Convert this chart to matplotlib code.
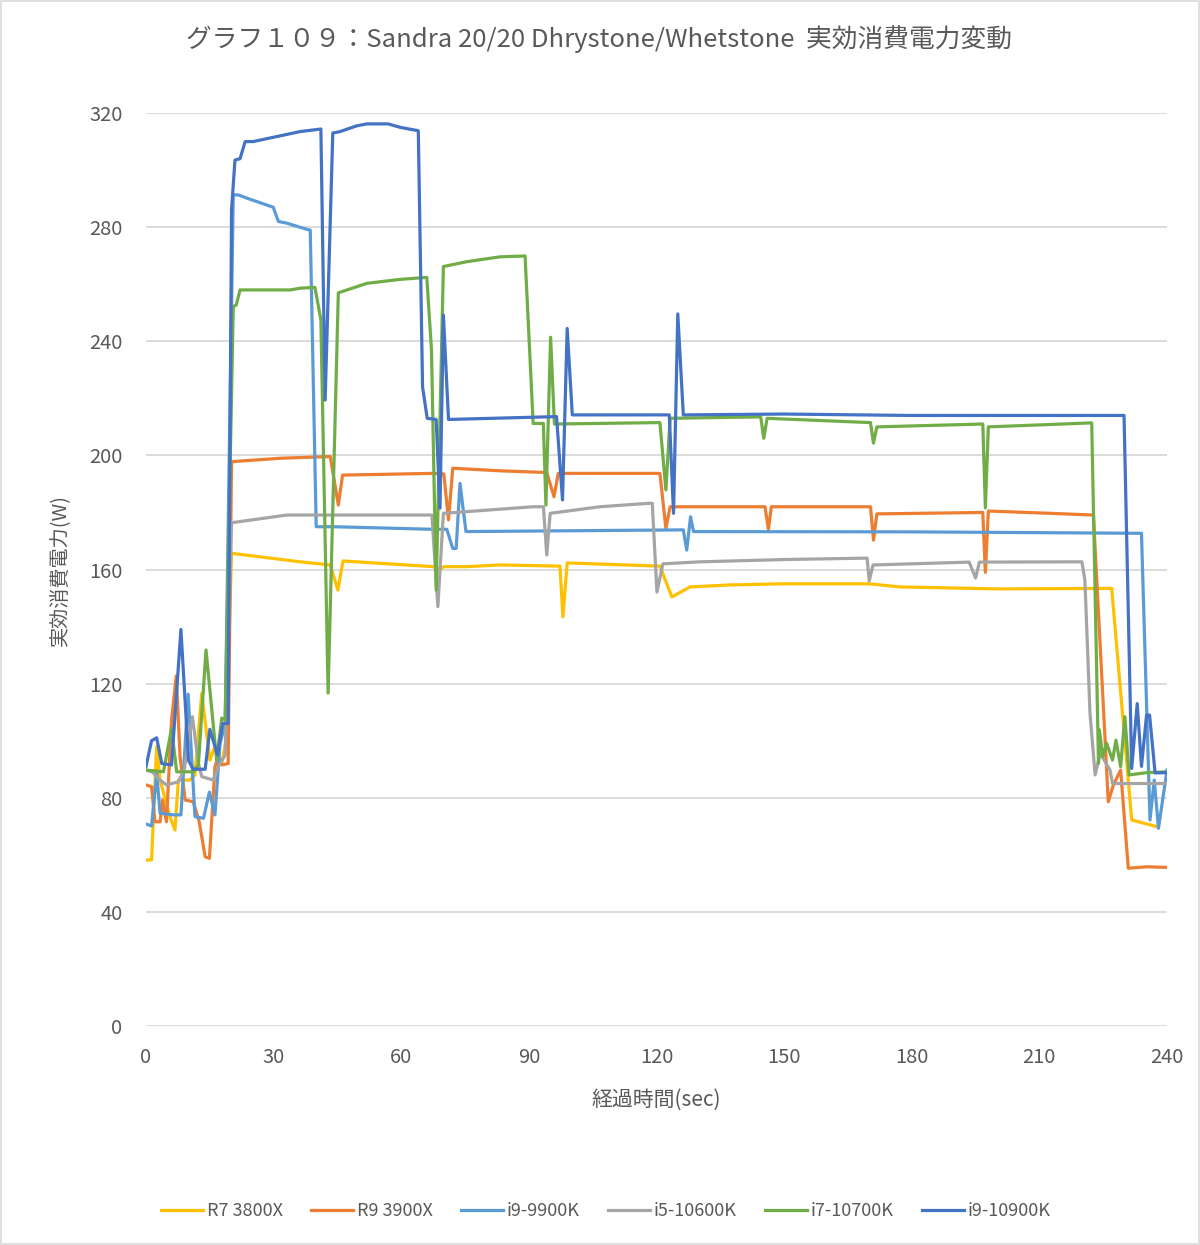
#!/usr/bin/env python3
"""Sandra 20/20 Dhrystone/Whetstone: effective power draw over time, six CPUs."""
import matplotlib
matplotlib.use("Agg")
import matplotlib.pyplot as plt
from matplotlib.patches import Rectangle

plt.rcParams["font.family"] = ["Noto Sans CJK JP", "DejaVu Sans"]

TITLE = "グラフ１０９：Sandra 20/20 Dhrystone/Whetstone  実効消費電力変動"
XLABEL = "経過時間(sec)"
YLABEL = "実効消費電力(W)"
XTICKS = [0, 30, 60, 90, 120, 150, 180, 210, 240]
YTICKS = [0, 40, 80, 120, 160, 200, 240, 280, 320]

LABELS = ["R7 3800X", "R9 3900X", "i9-9900K", "i5-10600K", "i7-10700K", "i9-10900K"]
COLORS = ["#FFC000", "#ED7D31", "#5B9BD5", "#A5A5A5", "#70AD47", "#4472C4"]

# (sec, W)
r7_t = [0, 1.3, 2.5, 3.3, 5.6, 6.8, 7.6, 10.3, 11.5, 13.1, 15, 16.2, 17.8, 18.8, 20.1,
        36.2, 43.3, 45.1, 46.3, 67.5, 69, 70, 75.4, 83.2, 97.3, 98, 99, 120.8, 123.6,
        127.9, 137.3, 150, 170, 177.2, 200.7, 227, 231.7, 237.6]
r7_w = [58.2, 58.2, 97.9, 86.2, 73.4, 68.7, 86.2, 86.2, 88, 116.6, 93.2, 97.9, 92, 100, 165.7,
        162.7, 161.6, 152.8, 163, 161, 160, 161, 161, 161.6, 161.2, 143.4, 162.3, 161.2, 150.4,
        153.9, 154.6, 155, 155, 153.9, 153.2, 153.4, 72.2, 69.9]

r9_t = [0, 1.3, 2.1, 3.3, 3.9, 4.8, 6, 7.1, 8, 9.2, 11.1, 12.5, 13.9, 14.9, 16.2, 17, 17.8,
        19.3, 20.1, 31.5, 43.3, 45.2, 46.2, 67.5, 70, 71.1, 72.1, 83.2, 94.2, 95.9, 96.9,
        120.8, 122.2, 123.2, 145.5, 146.3, 147, 170.3, 171, 171.8, 196.7, 197.3, 198, 212.5,
        222.7, 226.2, 227.4, 229.1, 230.9, 235.2, 240]
r9_w = [84.5, 83.9, 71.6, 71.6, 79.2, 71.6, 107.3, 122.7, 94.4, 79.2, 78.6, 71.6, 59.3, 58.8,
        90.9, 94.4, 91.5, 92, 197.8, 199, 199.6, 182.6, 193.1, 193.7, 193.5, 177.4, 195.5,
        194.6, 194, 185.5, 193.7, 193.7, 174.4, 182, 182, 174, 182, 182, 170.3, 179.5, 180,
        159, 180.5, 179.7, 179.1, 78.6, 84.5, 89.7, 55.3, 55.8, 55.6]

i99_t = [0, 1.3, 2.5, 3.3, 6.4, 8.2, 9.9, 11.5, 13.5, 14.9, 16.2, 17.4, 18.6, 20.5, 21.7,
         24.4, 29.9, 31.1, 33.1, 37.9, 38.6, 40, 44, 67.5, 70.7, 72.1, 72.9, 73.8, 75.2,
         126.3, 127.1, 128, 128.7, 180, 234, 236, 237, 238, 240]
i99_w = [70.8, 70.1, 88.6, 74.6, 74, 74, 116.3, 73.4, 72.8, 82, 74, 99, 106, 291.3, 291.3,
         289.8, 287, 282, 281.4, 279.2, 279, 175, 175, 174.1, 174.1, 167.4, 167.4, 190.2, 173.3,
         173.9, 166.8, 178.5, 173.3, 173.2, 172.7, 72.2, 86.2, 69.3, 89.7]

i5_t = [0, 1.5, 3.3, 4.8, 7.6, 9, 10.9, 12.3, 13.1, 15.8, 17, 18.6, 20.1, 33.1, 40.9, 67.2,
        68.6, 69.9, 91, 93.4, 94.2, 95, 106.7, 118.1, 119, 120.1, 121.5, 130.2, 150, 169.5,
        170, 170.9, 193.5, 195, 195.9, 220, 220.7, 221.9, 223.1, 224.3, 226.6, 227.2, 240]
i5_w = [89.7, 89, 86.2, 84.5, 85.6, 90, 108.4, 92.1, 87.4, 86.2, 90.9, 95, 176.4, 179.1, 179.1,
        179.1, 147, 179.7, 182, 182, 165.1, 179.7, 182, 183.2, 183.2, 152.1, 162, 162.7, 163.5,
        164, 156, 161.6, 162.6, 157, 162.6, 162.7, 156.3, 109.6, 88, 95.6, 89.7, 85, 85]

i7_t = [0, 4.1, 6, 7.2, 11.1, 12.3, 14.1, 16.6, 17.8, 18.6, 20.5, 21.2, 22.1, 33.9, 36.2,
        39.7, 41.1, 42.8, 45.2, 51.9, 59.7, 66, 67.1, 68.2, 69.9, 75.4, 83.2, 89.1, 91, 93.4,
        94, 95.1, 96, 120.8, 122.2, 123.2, 144.5, 145.2, 146, 170.3, 171, 171.8, 196.7,
        197.3, 198, 222.3, 223.9, 224.1, 224.9, 225.8, 227.2, 228, 229.1, 230.1, 231.1,
        235.2, 240]
i7_w = [89.7, 89.1, 104.3, 89.1, 89.1, 91.5, 131.8, 93.2, 107.9, 107.3, 252.1, 252.7, 258,
        258, 258.6, 258.9, 247.5, 116.7, 257, 260.3, 261.7, 262.4, 237, 152.8, 266.2, 267.9,
        269.6, 269.9, 211.2, 211.2, 182.6, 241.4, 211, 211.5, 187.9, 213, 213.5, 206, 213,
        211.5, 204.3, 210, 211, 181.6, 210, 211.4, 92.1, 103.8, 94.4, 99.1, 93.2, 100.2, 90.9,
        108.4, 88, 88.8, 89.1]

i910_t = [0, 1.3, 2.5, 3.7, 6, 8.2, 10, 11.1, 13.9, 15, 16.8, 18, 19.3, 20.1, 20.9, 22.1,
          23.3, 25.2, 36.2, 41.1, 42.1, 43.9, 45.6, 49.5, 51.9, 56.9, 59.7, 64, 65, 66.1,
          68.2, 69.1, 69.9, 71.1, 96.5, 97.9, 99.0, 100.2, 123, 124, 125, 126.3, 150, 180,
          229.9, 231.7, 233, 234, 235.2, 235.9, 237.2, 240]
i910_w = [91, 100, 101, 92, 91.5, 139, 93, 90, 90, 104, 95, 106, 106, 286, 303.5, 304, 310,
          310, 313.5, 314.4, 219.4, 313, 313.5, 315.5, 316.2, 316.2, 315, 313.8, 224, 213,
          212.6, 181.5, 249.2, 212.6, 213.6, 184.4, 244.5, 214.2, 214.2, 179.7, 249.6, 214.2,
          214.5, 214, 214, 90.3, 113, 91, 109, 109, 88.7, 88.8]

SERIES = [(r7_t, r7_w), (r9_t, r9_w), (i99_t, i99_w),
          (i5_t, i5_w), (i7_t, i7_w), (i910_t, i910_w)]

TXT = "#595959"
GRID = "#D9D9D9"


def main():
    fig = plt.figure(figsize=(12, 12.45), dpi=100)
    fig.patches.append(Rectangle((0.001, 0.001), 0.998, 0.998, transform=fig.transFigure,
                                 fill=False, ec=GRID, lw=1.2))
    ax = fig.add_axes([0.1217, 0.1759, 0.8508, 0.7333])

    for (t, w), lab, c in zip(SERIES, LABELS, COLORS):
        ax.plot(t, w, color=c, lw=2.3, label=lab, solid_joinstyle="round")

    ax.set_xlim(0, 240)
    ax.set_ylim(0, 320)
    ax.set_xticks(XTICKS)
    ax.set_yticks(YTICKS)
    for s in ax.spines.values():
        s.set_visible(False)
    ax.grid(True, axis="y", color=GRID, lw=1.3, zorder=0)
    ax.set_axisbelow(True)
    ax.tick_params(axis="both", length=0, labelsize=14.5, colors=TXT)
    ax.tick_params(axis="y", pad=17)
    ax.tick_params(axis="x", pad=15)

    ax.set_xlabel(XLABEL, fontsize=15, color=TXT, labelpad=15)
    ax.set_ylabel(YLABEL, fontsize=14.5, color=TXT, labelpad=14)
    fig.text(0.499, 0.969, TITLE, ha="center", va="center", fontsize=18.5, color=TXT)

    fig.legend(loc="center", bbox_to_anchor=(0.505, 0.027), ncol=6, frameon=False,
               fontsize=13, labelcolor=TXT, handlelength=2.3, handletextpad=0.2,
               columnspacing=1.6)

    fig.savefig("out.png", dpi=100)


if __name__ == "__main__":
    main()
